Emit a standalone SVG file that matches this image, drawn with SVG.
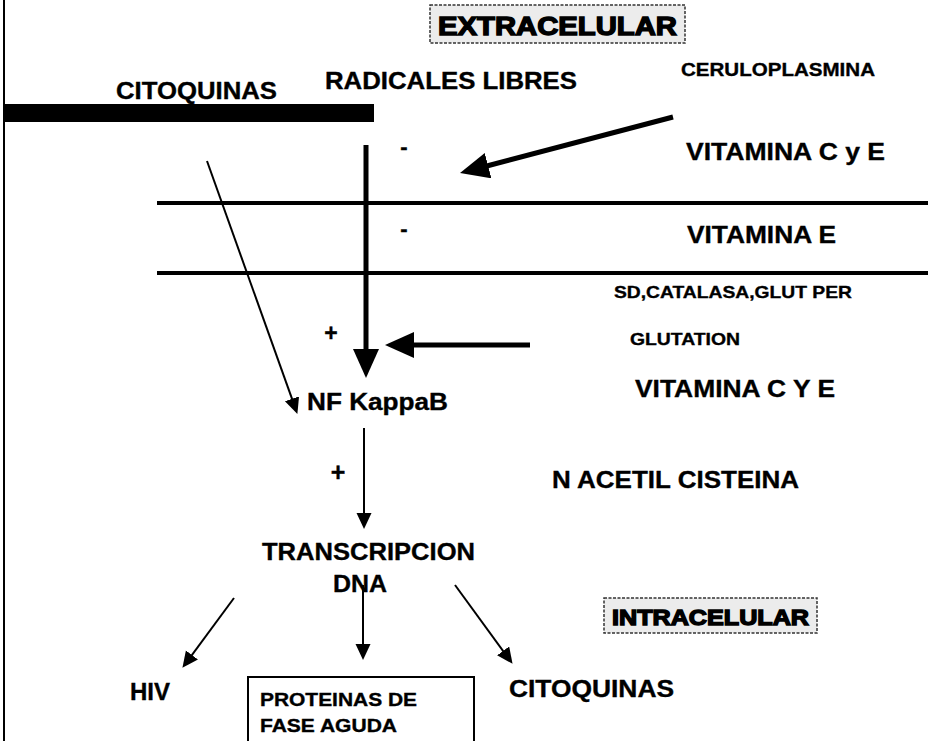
<svg xmlns="http://www.w3.org/2000/svg" width="928" height="741" viewBox="0 0 928 741">
<style>
text{font-family:"Liberation Sans",Arial,sans-serif;font-weight:bold;fill:#000;stroke:#000;stroke-width:0.35}
text.heavy{stroke-width:1.4}
.box{fill:#ececec;stroke:#333;stroke-width:1.5;stroke-dasharray:3 1.5}
.thin{stroke:#000;stroke-width:2;fill:none;marker-end:url(#ah)}
.thick{stroke:#000;stroke-width:5;fill:none;marker-end:url(#ahb)}
.memb{stroke:#000;stroke-width:4}
</style>
<defs>
<marker id="ah" markerUnits="userSpaceOnUse" markerWidth="18" markerHeight="16" refX="11" refY="7.5" orient="auto"><path d="M0,0 L16,7.5 L0,15 z" fill="#000"/></marker>
<marker id="ahb" markerUnits="userSpaceOnUse" markerWidth="32" markerHeight="28" refX="19" refY="13" orient="auto"><path d="M0,0 L29,13 L0,26 z" fill="#000"/></marker>
</defs>
<rect width="928" height="741" fill="#fff"/>
<line x1="4" y1="0" x2="4" y2="741" stroke="#000" stroke-width="2"/>
<g id="membranes">
<line class="memb" x1="157" y1="203" x2="928" y2="203"/>
<line class="memb" x1="157" y1="273" x2="928" y2="273"/>
</g>
<g id="extracelular">
<rect class="box" x="430" y="5" width="255" height="38"/>
<text class="heavy" x="438" y="35" font-size="26" textLength="239" lengthAdjust="spacingAndGlyphs">EXTRACELULAR</text>
</g>
<g id="citoquinas-top">
<rect x="4" y="104" width="370" height="18" fill="#000"/>
<text x="116" y="99" font-size="23" textLength="161" lengthAdjust="spacingAndGlyphs">CITOQUINAS</text>
</g>
<g id="radicales"><text x="325" y="89" font-size="23" textLength="252" lengthAdjust="spacingAndGlyphs">RADICALES LIBRES</text></g>
<g id="ceruloplasmina"><text x="681" y="76" font-size="19" textLength="194" lengthAdjust="spacingAndGlyphs">CERULOPLASMINA</text></g>
<g id="vitCyE1"><text x="686" y="160" font-size="24" textLength="199" lengthAdjust="spacingAndGlyphs">VITAMINA C y E</text></g>
<g id="vitE"><text x="687" y="243" font-size="24" textLength="149" lengthAdjust="spacingAndGlyphs">VITAMINA E</text></g>
<g id="sd"><text x="614" y="298" font-size="17" textLength="238" lengthAdjust="spacingAndGlyphs">SD,CATALASA,GLUT PER</text></g>
<g id="glutation"><text x="630" y="345" font-size="17" textLength="110" lengthAdjust="spacingAndGlyphs">GLUTATION</text></g>
<g id="vitCyE2"><text x="635" y="397" font-size="24" textLength="200" lengthAdjust="spacingAndGlyphs">VITAMINA C Y E</text></g>
<g id="nfkappab"><text x="307" y="410" font-size="23" textLength="141" lengthAdjust="spacingAndGlyphs">NF KappaB</text></g>
<g id="nac"><text x="552" y="488" font-size="24" textLength="247" lengthAdjust="spacingAndGlyphs">N ACETIL CISTEINA</text></g>
<g id="transcripcion">
<text x="262" y="560" font-size="24" textLength="213" lengthAdjust="spacingAndGlyphs">TRANSCRIPCION</text>
<text x="333" y="592" font-size="24" textLength="54" lengthAdjust="spacingAndGlyphs">DNA</text>
</g>
<g id="intracelular">
<rect class="box" x="604" y="598" width="213" height="35"/>
<text class="heavy" x="612" y="625" font-size="22" textLength="197" lengthAdjust="spacingAndGlyphs">INTRACELULAR</text>
</g>
<g id="hiv"><text x="130" y="700" font-size="24" textLength="40" lengthAdjust="spacingAndGlyphs">HIV</text></g>
<g id="proteinas">
<rect x="248" y="677" width="226" height="66" fill="none" stroke="#000" stroke-width="2"/>
<text x="260" y="706" font-size="18" textLength="157" lengthAdjust="spacingAndGlyphs">PROTEINAS DE</text>
<text x="260" y="732" font-size="18" textLength="137" lengthAdjust="spacingAndGlyphs">FASE AGUDA</text>
</g>
<g id="citoquinas-bottom"><text x="509" y="697" font-size="24" textLength="165" lengthAdjust="spacingAndGlyphs">CITOQUINAS</text></g>
<g id="signs">
<text x="404" y="154" font-size="22" text-anchor="middle">-</text>
<text x="404" y="236" font-size="22" text-anchor="middle">-</text>
<text x="331" y="341" font-size="23" text-anchor="middle">+</text>
<text x="338" y="481" font-size="25" text-anchor="middle">+</text>
</g>
<g id="connectors">
<line class="thick" x1="366" y1="145" x2="366" y2="368"/>
<line class="thick" x1="673" y1="117" x2="469.7" y2="170.5"/>
<line class="thick" x1="530" y1="345" x2="395" y2="345"/>
<line class="thin" x1="207" y1="161" x2="295.7" y2="409.2"/>
<line class="thin" x1="364" y1="428" x2="364" y2="524"/>
<line class="thin" x1="234" y1="598" x2="185.4" y2="663.8"/>
<line class="thin" x1="363" y1="585" x2="363" y2="655"/>
<line class="thin" x1="455" y1="585" x2="509.6" y2="659.8"/>
</g>
</svg>
